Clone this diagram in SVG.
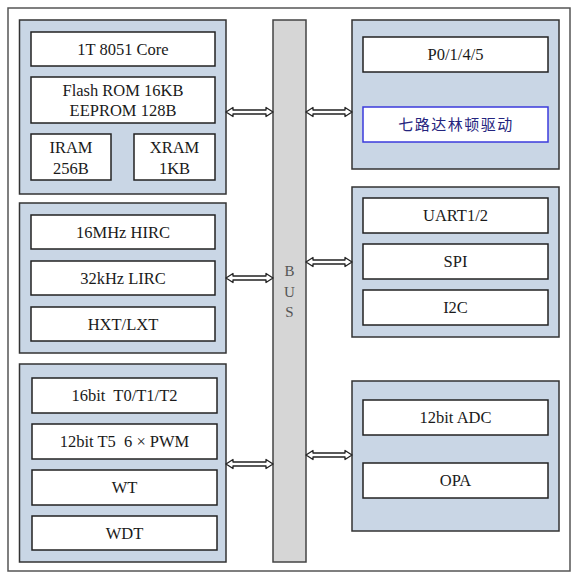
<svg xmlns="http://www.w3.org/2000/svg" width="586" height="583" viewBox="0 0 586 583">
<style>
.outer{fill:#fff;stroke:#555;stroke-width:1.5}
.panel{fill:#c9d6e5;stroke:#333;stroke-width:1.5}
.box{fill:#fff;stroke:#222;stroke-width:1.5}
.cbox{fill:#fff;stroke:#3b3bdc;stroke-width:1.5}
.bus{fill:#d6d6d6;stroke:#444;stroke-width:1.5}
.arr{fill:#fff;stroke:#222;stroke-width:1.3;stroke-linejoin:round}
text{font-family:"Liberation Serif","Times New Roman",serif;font-size:16.5px;fill:#1a1a1a;text-anchor:middle;white-space:pre}
.bl{font-size:15px;fill:#555}
.cn{font-family:"Noto Sans CJK SC",sans-serif;font-size:15px;fill:#24247e;letter-spacing:1.5px}
</style>
<rect class="outer" x="8" y="8" width="562" height="563"/>
<g id="bus">
<rect class="bus" x="273" y="20" width="33" height="542"/>
<text class="bl" x="289.5" y="276">B</text>
<text class="bl" x="289.5" y="297">U</text>
<text class="bl" x="289.5" y="317">S</text>
</g>
<g id="cpu">
<rect class="panel" x="19.5" y="20" width="206.5" height="174"/>
<rect class="box" x="31" y="32" width="184" height="34"/>
<text x="123" y="54.5">1T 8051 Core</text>
<rect class="box" x="31" y="77" width="184" height="46"/>
<text x="123" y="95.5">Flash ROM 16KB</text>
<text x="123" y="115.5">EEPROM 128B</text>
<rect class="box" x="31" y="134" width="80" height="46"/>
<text x="71" y="152.5">IRAM</text>
<text x="71" y="173.5">256B</text>
<rect class="box" x="134" y="134" width="81" height="46"/>
<text x="174.5" y="152.5">XRAM</text>
<text x="174.5" y="173.5">1KB</text>
</g>
<g id="clock">
<rect class="panel" x="19.5" y="203" width="206.5" height="150"/>
<rect class="box" x="31" y="215" width="184" height="34"/>
<text x="123" y="237.5">16MHz HIRC</text>
<rect class="box" x="31" y="261" width="184" height="34"/>
<text x="123" y="283.5">32kHz LIRC</text>
<rect class="box" x="31" y="307" width="184" height="34"/>
<text x="123" y="329.5">HXT/LXT</text>
</g>
<g id="timers">
<rect class="panel" x="19.5" y="364" width="206.5" height="198"/>
<rect class="box" x="32" y="378" width="185" height="35"/>
<text x="124.5" y="401">16bit  T0/T1/T2</text>
<rect class="box" x="32" y="424" width="185" height="35"/>
<text x="124.5" y="447">12bit T5  6 × PWM</text>
<rect class="box" x="32" y="470" width="185" height="35"/>
<text x="124.5" y="493">WT</text>
<rect class="box" x="32" y="516" width="185" height="34"/>
<text x="124.5" y="538.5">WDT</text>
</g>
<g id="gpio">
<rect class="panel" x="352" y="20" width="207" height="149"/>
<rect class="box" x="363" y="37" width="185" height="35"/>
<text x="455.5" y="60">P0/1/4/5</text>
<rect class="cbox" x="363" y="107" width="185" height="35"/>
<text class="cn" x="456" y="130">七路达林顿驱动</text>
</g>
<g id="comm">
<rect class="panel" x="352" y="187" width="207" height="150"/>
<rect class="box" x="363" y="198" width="185" height="35"/>
<text x="455.5" y="221">UART1/2</text>
<rect class="box" x="363" y="244" width="185" height="35"/>
<text x="455.5" y="267">SPI</text>
<rect class="box" x="363" y="290" width="185" height="35"/>
<text x="455.5" y="313">I2C</text>
</g>
<g id="analog">
<rect class="panel" x="352" y="381" width="207" height="150"/>
<rect class="box" x="363" y="400" width="185" height="35"/>
<text x="455.5" y="423">12bit ADC</text>
<rect class="box" x="363" y="463" width="185" height="35"/>
<text x="455.5" y="486">OPA</text>
</g>
<g id="connectors">
<path class="arr" d="M226,112 L233,107.5 L233,110 L266,110 L266,107.5 L273,112 L266,116.5 L266,114 L233,114 L233,116.5 Z"/>
<path class="arr" d="M226,278 L233,273.5 L233,276 L266,276 L266,273.5 L273,278 L266,282.5 L266,280 L233,280 L233,282.5 Z"/>
<path class="arr" d="M226,464 L233,459.5 L233,462 L266,462 L266,459.5 L273,464 L266,468.5 L266,466 L233,466 L233,468.5 Z"/>
<path class="arr" d="M306,112 L313,107.5 L313,110 L345,110 L345,107.5 L352,112 L345,116.5 L345,114 L313,114 L313,116.5 Z"/>
<path class="arr" d="M306,262 L313,257.5 L313,260 L345,260 L345,257.5 L352,262 L345,266.5 L345,264 L313,264 L313,266.5 Z"/>
<path class="arr" d="M306,455 L313,450.5 L313,453 L345,453 L345,450.5 L352,455 L345,459.5 L345,457 L313,457 L313,459.5 Z"/>
</g>
</svg>
